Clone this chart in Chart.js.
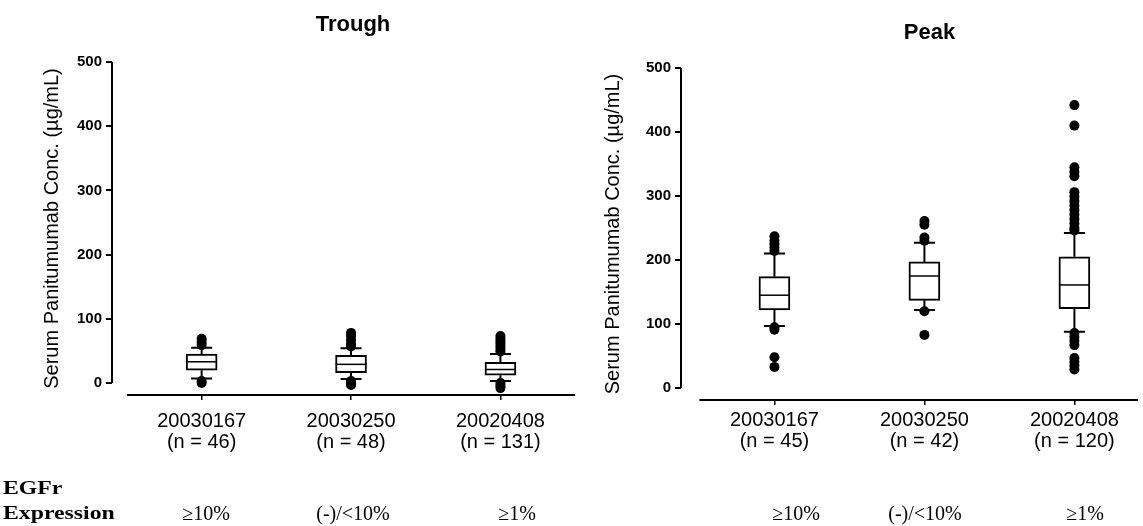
<!DOCTYPE html>
<html>
<head>
<meta charset="utf-8">
<script src="https://cdn.jsdelivr.net/npm/chart.js@4.4.0/dist/chart.umd.min.js"></script>
<style>
  html, body { margin: 0; padding: 0; background: #fff; }
  #wrap { position: relative; width: 1143px; height: 526px; overflow: hidden; background: #fff; }
  canvas { position: absolute; top: 0; }
  #trough { left: 0; }
  #peak { left: 575px; }
  .lbl { position: absolute; font-family: "Liberation Serif", "DejaVu Serif", serif; font-size: 20px;
         color: #000; white-space: nowrap; line-height: 1; transform: translate(-50%, -50%); }
  .side { font-size: 19px; font-weight: bold; transform-origin: 0 50%; transform: translate(0, -50%) scaleX(1.25); }
</style>
</head>
<body>
<div id="wrap">
  <canvas id="trough" width="590" height="526"></canvas>
  <canvas id="peak" width="568" height="526"></canvas>
</div>
<script>
var studies = ['20030167', '20030250', '20020408'];
var expression = ['≥10%', '(-)/<10%', '≥1%'];
var troughN = [46, 48, 131];
var peakN = [45, 42, 120];
var yTicks = [0, 100, 200, 300, 400, 500];

// trough concentrations: whisker ends, quartiles, median, outliers
var troughLow = [7, 6, 3];
var troughQ1 = [20, 16, 12];
var troughMedian = [33, 29, 21];
var troughQ3 = [45, 43, 32];
var troughHigh = [55, 54, 45];
var troughOutliers = [
  [69, 64, 59, 3, 0],
  [78, 73, 67, 61, 57, 3, -1, -3],
  [73, 69, 65, 61, 57, 53, 49, 0, -4, -8]
];

// peak concentrations
var peakLow = [97, 122, 88];
var peakQ1 = [122, 137, 124];
var peakMedian = [145, 175, 161];
var peakQ3 = [174, 197, 205];
var peakHigh = [210, 227, 242];
var peakOutliers = [
  [237, 230, 225, 219, 214, 95, 91, 48, 33],
  [261, 255, 235, 230, 120, 83],
  [442, 410, 345, 338, 331, 306, 299, 292, 285, 278, 271, 264, 257, 250, 246, 86, 80, 74, 67, 47, 41, 35, 29]
];

// whiskers, caps, medians, axis lines and the panel title
function boxPlugin(st) {
  return {
    id: 'boxParts',
    beforeDatasetsDraw: function (chart) {
      var x = chart.scales.x, y = chart.scales.y, ctx = chart.ctx;
      ctx.save();
      ctx.strokeStyle = '#000';
      ctx.lineWidth = 2;
      st.q1.forEach(function (q1, i) {
        var px = x.getPixelForValue(i);
        var yHi = y.getPixelForValue(st.high[i]);
        var yLo = y.getPixelForValue(st.low[i]);
        ctx.beginPath();
        ctx.moveTo(px, y.getPixelForValue(st.q3[i]));
        ctx.lineTo(px, yHi);
        ctx.moveTo(px, y.getPixelForValue(q1));
        ctx.lineTo(px, yLo);
        ctx.moveTo(px - 10.5, yHi);
        ctx.lineTo(px + 10.5, yHi);
        ctx.moveTo(px - 10.5, yLo);
        ctx.lineTo(px + 10.5, yLo);
        ctx.stroke();
      });
      // axes: y from 0 to 500, x detached from the y axis
      var a = chart.chartArea;
      ctx.beginPath();
      ctx.moveTo(a.left, y.getPixelForValue(0));
      ctx.lineTo(a.left, y.getPixelForValue(500));
      ctx.moveTo(x.getPixelForValue(-0.5), a.bottom);
      ctx.lineTo(x.getPixelForValue(st.xEnd), a.bottom);
      ctx.stroke();
      ctx.restore();
    },
    afterDatasetsDraw: function (chart) {
      var x = chart.scales.x, y = chart.scales.y, ctx = chart.ctx;
      var bars = chart.getDatasetMeta(0).data;
      ctx.save();
      ctx.strokeStyle = '#000';
      ctx.lineWidth = 1.5;
      st.median.forEach(function (m, i) {
        var px = x.getPixelForValue(i), w = bars[i].width / 2;
        var py = y.getPixelForValue(m);
        ctx.beginPath();
        ctx.moveTo(px - w, py);
        ctx.lineTo(px + w, py);
        ctx.stroke();
      });
      ctx.font = 'bold 22px "Liberation Sans", Arial, sans-serif';
      ctx.fillStyle = '#000';
      ctx.textAlign = 'center';
      ctx.textBaseline = 'middle';
      ctx.fillText(st.title, x.getPixelForValue(1) + st.titleDx, chart.chartArea.top - st.titleDy);
      ctx.restore();
    }
  };
}

function makePanel(id, st, n, outliers, lay) {
  var pts = [];
  outliers.forEach(function (vals, i) {
    vals.forEach(function (v) { pts.push({ x: i, y: v }); });
  });
  return new Chart(document.getElementById(id), {
    type: 'bar',
    data: {
      datasets: [{
        data: st.q1.map(function (v, i) { return { x: i, y: [v, st.q3[i]] }; }),
        backgroundColor: '#fff',
        borderColor: '#000',
        borderWidth: 2,
        borderSkipped: false,
        barThickness: 31
      }, {
        type: 'scatter',
        data: pts,
        pointRadius: 5,
        pointBackgroundColor: '#000',
        pointBorderWidth: 0
      }]
    },
    options: {
      responsive: false,
      animation: false,
      layout: { padding: { top: lay.top, bottom: lay.bottom, left: 0, right: 0 } },
      plugins: { legend: { display: false }, tooltip: { enabled: false } },
      scales: {
        x: {
          type: 'linear',
          min: lay.xMin,
          max: lay.xMax,
          offset: false,
          afterBuildTicks: function (s) { s.ticks = [0, 1, 2].map(function (v) { return { value: v }; }); },
          afterFit: function (s) { s.height = 60; },
          border: { display: false },
          grid: { drawOnChartArea: false, offset: false, color: '#000', lineWidth: 1.5, tickLength: 5 },
          ticks: {
            autoSkip: false,
            maxRotation: 0,
            padding: lay.xPad,
            color: '#000',
            font: { family: '"Liberation Sans", Arial, sans-serif', size: 20, lineHeight: 1.05 },
            callback: function (v) { return [studies[v], '(n = ' + n[v] + ')']; }
          }
        },
        y: {
          min: -18.75,
          max: 500,
          afterBuildTicks: function (s) { s.ticks = yTicks.map(function (v) { return { value: v }; }); },
          afterFit: function (s) { s.width = lay.yWidth; },
          border: { display: false },
          grid: { drawOnChartArea: false, color: '#000', lineWidth: 2, tickLength: 6 },
          ticks: {
            padding: 4,
            color: '#000',
            font: { family: '"Liberation Sans", Arial, sans-serif', size: 15, weight: 'bold' }
          },
          title: {
            display: true,
            text: 'Serum Panitumumab Conc. (µg/mL)',
            color: '#000',
            padding: { top: lay.titlePad, bottom: 0 },
            font: { family: '"Liberation Sans", Arial, sans-serif', size: 20 }
          }
        }
      }
    },
    plugins: [boxPlugin(st)]
  });
}

makePanel('trough', {
  low: troughLow, q1: troughQ1, median: troughMedian, q3: troughQ3, high: troughHigh,
  title: 'Trough', titleDx: 2, titleDy: 37, xEnd: 2.5
}, troughN, troughOutliers, { top: 62, bottom: 71, yWidth: 112, titlePad: 40, xMin: -0.6, xMax: 2.566, xPad: 11 });

makePanel('peak', {
  low: peakLow, q1: peakQ1, median: peakMedian, q3: peakQ3, high: peakHigh,
  title: 'Peak', titleDx: 5, titleDy: 35, xEnd: 2.424
}, peakN, peakOutliers, { top: 68, bottom: 66, yWidth: 106, titlePad: 26, xMin: -0.623, xMax: 2.424, xPad: 5 });

// EGFr expression row under both panels
var wrap = document.getElementById('wrap');
function addLabel(text, left, top, cls) {
  var d = document.createElement('div');
  d.className = 'lbl' + (cls ? ' ' + cls : '');
  d.textContent = text;
  d.style.left = left + 'px';
  d.style.top = top + 'px';
  wrap.appendChild(d);
}
addLabel('EGFr', 3, 487, 'side');
addLabel('Expression', 3, 512, 'side');
var exprLeft = [206, 353, 517];
var exprRight = [796, 925, 1085];
expression.forEach(function (t, i) {
  addLabel(t, exprLeft[i], 513);
  addLabel(t, exprRight[i], 513);
});
</script>
</body>
</html>
